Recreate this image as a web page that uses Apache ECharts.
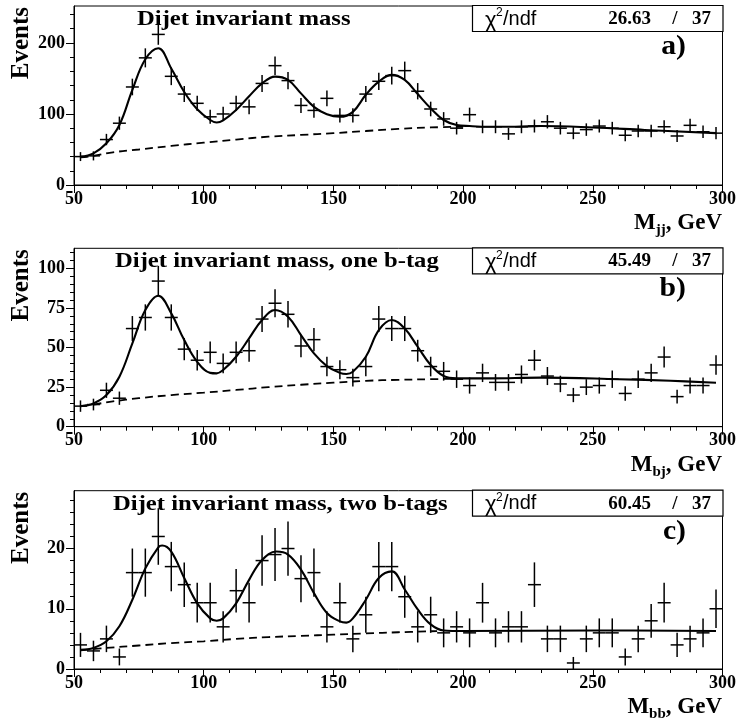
<!DOCTYPE html>
<html><head><meta charset="utf-8">
<script src="https://cdn.jsdelivr.net/npm/echarts@6/dist/echarts.min.js"></script>
<style>html,body{margin:0;padding:0;background:#fff}#c{width:739px;height:725px}</style>
</head><body><div id="c"></div>
<script>
// bin centres (GeV)
const massBins = [52.5,57.5,62.5,67.5,72.5,77.5,82.5,87.5,92.5,97.5,102.5,107.5,112.5,117.5,122.5,127.5,132.5,137.5,142.5,147.5,152.5,157.5,162.5,167.5,172.5,177.5,182.5,187.5,192.5,197.5,202.5,207.5,212.5,217.5,222.5,227.5,232.5,237.5,242.5,247.5,252.5,257.5,262.5,267.5,272.5,277.5,282.5,287.5,292.5,297.5];

// a) all dijets
const eventsA = [40,41,64,87,138,179,212,153,128,115,96,100,115,110,143,168,147,112,105,122,98,98,128,146,154,161,132,107,93,80,99,82,82,72,82,83,89,80,73,78,83,80,70,76,76,82,69,84,75,73];
const errA = [6.3,6.4,8,9.3,11.7,13.4,14.6,12.4,11.3,10.7,9.8,10,10.7,10.5,12,13,12.1,10.6,10.2,11,9.9,9.9,11.3,12.1,12.4,12.7,11.5,10.3,9.6,8.9,9.9,9.1,9.1,8.5,9.1,9.1,9.4,8.9,8.5,8.8,9.1,8.9,8.4,8.7,8.7,9.1,8.3,9.2,8.7,8.5];
const fitAx = [52.5,57.5,62.5,67.5,72.5,77.5,82.5,87.5,92.5,97.5,102.5,105,107.5,112.5,117.5,122.5,127.5,132.5,137.5,142.5,147.5,152.5,157.5,162.5,167.5,172.5,177.5,182.5,187.5,192.5,197.5,202.5,210,220,230,250,270,297.5];
const fitAy = [40,44.6,58.7,84.5,134,177,192.5,164,131,106.6,91.5,88,91,105.6,125,143,152.6,148,129,110,99.5,96,103,127,145.5,155,148,128,108,91.5,84.5,83,82,82,83,81,77.5,73];
const bgAx = [52.5,57.5,65,75,87.5,100,112.5,125,137.5,150,162.5,175,187.5,200];
const bgAy = [39,41,46,50,55,59.6,64,68,70.5,73,76,79,81,82];

// b) one b-tag
const eventsB = [13,14,23,18,62,69,92,69,49,42,47,40,47,48,68,78,71,51,55,38,36,31,38,68,62,62,48,38,35,30,26,34,28,28,33,42,32,27,20,25,26,30,21,30,34,44,19,26,26,39];
const errB = [3.6,3.7,4.8,4.2,7.9,8.3,9.6,8.3,7,6.5,6.9,6.3,6.9,6.9,8.2,8.8,8.4,7.1,7.4,6.2,6,5.6,6.2,8.2,7.9,7.9,6.9,6.2,5.9,5.5,5.1,5.8,5.3,5.3,5.7,6.5,5.7,5.2,4.5,5,5.1,5.5,4.6,5.5,5.8,6.6,4.4,5.1,5.1,6.2];
const fitBx = [52.5,57.5,62.5,67.5,72.5,77.5,82.5,87.5,92.5,97.5,102.5,105,107.5,112.5,117.5,122.5,127.5,132.5,137.5,142.5,147.5,152.5,155,157.5,162.5,167.5,172.5,177.5,182.5,187.5,192.5,197.5,210,230,260,280,297.5];
const fitBy = [13,14.7,20,31.6,52.6,73.7,82.7,71.6,54.7,41,34,33.7,35.8,44.2,55.8,67.4,73.7,69.5,57.9,46.3,38.3,34,33.3,34.7,44.2,61,67.4,62,50.5,39,32,30.5,30.5,31,30,29,27.8];
const bgBx = [52.5,57.5,65,75,87.5,100,112.5,125,137.5,150,162.5,175,187.5,195];
const bgBy = [13,14,16,18,20,21.5,23.2,25,26.5,27.8,29,29.6,30,30.3];

// c) two b-tags
const eventsC = [4,3,5,2,16,16,22,17,14,11,11,7,13,11,18,19,20,15,16,7,11,5,9,17,17,12,7,9,6,7,6,11,6,7,7,14,5,5,1,5,6,6,2,5,8,11,4,5,6,10];
const errC = [2,1.7,2.2,1.4,4,4,4.7,4.1,3.7,3.3,3.3,2.6,3.6,3.3,4.2,4.4,4.5,3.9,4,2.6,3.3,2.2,3,4.1,4.1,3.5,2.6,3,2.4,2.6,2.4,3.3,2.4,2.6,2.6,3.7,2.2,2.2,1,2.2,2.4,2.4,1.4,2.2,2.8,3.3,2,2.2,2.4,3.2];
const fitCx = [52.5,57.5,62.5,67.5,72.5,77.5,82.5,84,87.5,92.5,97.5,102.5,105,107.5,112.5,117.5,122.5,128,132.5,137.5,142.5,147.5,152.5,155,157.5,162.5,167.5,172.5,177.5,182.5,187.5,192.5,200,250,297.5];
const fitCy = [3.2,3.5,4.6,7.1,11.5,16.7,20.2,20.5,19.5,15.1,10.9,8.4,8,8.4,10.9,14.8,18.1,19.5,19,16.5,12.6,9.3,7.9,7.7,8.4,11.5,15.1,16.2,13.2,9.9,7.4,6.4,6.3,6.4,6.3];
const bgCx = [52.5,62.5,75,87.5,100,112.5,125,137.5,150,162.5,175,190];
const bgCy = [3.1,3.5,3.9,4.3,4.6,5,5.3,5.5,5.7,5.9,6.1,6.3];

// axis ticks
const xMajorTicks = [50,100,150,200,250,300];
const xMinorTicks = [50,60,70,80,90,100,110,120,130,140,150,160,170,180,190,200,210,220,230,240,250,260,270,280,290,300];
const yMajorA = [0,100,200];
const yMinorA = [0,20,40,60,80,100,120,140,160,180,200,220,240];
const yMajorB = [0,25,50,75,100];
const yMinorB = [0,5,10,15,20,25,30,35,40,45,50,55,60,65,70,75,80,85,90,95,100,105,110];
const yMajorC = [0,10,20];
const yMinorC = [0,2,4,6,8,10,12,14,16,18,20,22,24,26,28];

const titles = ['Dijet invariant mass','Dijet invariant mass, one b-tag','Dijet invariant mass, two b-tags'];
const chi2 = ['26.63','45.49','60.45'];
const ndf = ['37','37','37'];
const tags = ['a)','b)','c)'];
const xSubs = ['jj','bj','bb'];

const SERIF = "'Liberation Serif','Times New Roman',serif";
const SANS = "'Liberation Sans',Arial,sans-serif";

const panels = [
  {top:6, h:179, ymax:252, yMaj:yMajorA, yMin:yMinorA, ev:eventsA, er:errA, fx:fitAx, fy:fitAy, bx:bgAx, by:bgAy, titleX:137},
  {top:248.3, h:178.4, ymax:112.7, yMaj:yMajorB, yMin:yMinorB, ev:eventsB, er:errB, fx:fitBx, fy:fitBy, bx:bgBx, by:bgBy, titleX:115},
  {top:490.7, h:178.3, ymax:29.6, yMaj:yMajorC, yMin:yMinorC, ev:eventsC, er:errC, fx:fitCx, fy:fitCy, bx:bgCx, by:bgCy, titleX:113}
];
const LEFT = 74, RIGHT = 723;

const grid = [], xAxis = [], yAxis = [], series = [], graphic = [];
const black = '#000';
panels.forEach((p, i) => {
  grid.push({left: LEFT, top: p.top, width: RIGHT-LEFT, height: p.h, show: true, borderColor: black, borderWidth: 1, containLabel: false});
  const labelStyle = {fontFamily: SERIF, fontWeight: 'bold', fontSize: 18, color: black};
  xAxis.push({type:'value', gridIndex:i, min:50, max:300, position:'bottom',
    axisLine:{show:true, onZero:false, lineStyle:{color:black, width:1}},
    axisTick:{show:true, inside:false, length:8, customValues:xMajorTicks, lineStyle:{color:black, width:1}},
    axisLabel:Object.assign({show:true, margin:5, customValues:xMajorTicks}, labelStyle),
    splitLine:{show:false}});
  xAxis.push({type:'value', gridIndex:i, min:50, max:300, position:'bottom',
    axisLine:{show:false, onZero:false},
    axisTick:{show:true, inside:false, length:4, customValues:xMinorTicks, lineStyle:{color:black, width:1}},
    axisLabel:{show:false}, splitLine:{show:false}});
  yAxis.push({type:'value', gridIndex:i, min:0, max:p.ymax, position:'left',
    axisLine:{show:true, onZero:false, lineStyle:{color:black, width:1}},
    axisTick:{show:true, inside:false, length:8, customValues:p.yMaj, lineStyle:{color:black, width:1}},
    axisLabel:Object.assign({show:true, margin:9, customValues:p.yMaj}, labelStyle),
    splitLine:{show:false}});
  yAxis.push({type:'value', gridIndex:i, min:0, max:p.ymax, position:'left',
    axisLine:{show:false, onZero:false},
    axisTick:{show:true, inside:false, length:4, customValues:p.yMin, lineStyle:{color:black, width:1}},
    axisLabel:{show:false}, splitLine:{show:false}});

  series.push({type:'line', xAxisIndex:2*i, yAxisIndex:2*i, data:p.bx.map((x,k)=>[x,p.by[k]]),
    showSymbol:false, smooth:0.4, lineStyle:{color:black, width:1.8, type:[8,5]}, silent:true, z:2});
  series.push({type:'line', xAxisIndex:2*i, yAxisIndex:2*i, data:p.fx.map((x,k)=>[x,p.fy[k]]),
    showSymbol:false, smooth:0.4, lineStyle:{color:black, width:2.1}, silent:true, z:3});
  series.push({type:'custom', xAxisIndex:2*i, yAxisIndex:2*i, z:4,
    data: massBins.map((x,k)=>[x, p.ev[k], p.er[k]]),
    renderItem: function(params, api){
      const x = api.value(0), y = api.value(1), e = api.value(2);
      const l = api.coord([x-2.5, y]), r = api.coord([x+2.5, y]);
      const t = api.coord([x, y+e]), b = api.coord([x, y-e]);
      const st = {stroke: black, lineWidth: 1.5};
      return {type:'group', children:[
        {type:'line', shape:{x1:l[0], y1:l[1], x2:r[0], y2:r[1]}, style:st},
        {type:'line', shape:{x1:t[0], y1:t[1], x2:b[0], y2:b[1]}, style:st}
      ]};
    }});

  // overlay texts
  const top = p.top, bottom = p.top + p.h;
  graphic.push({type:'text', x:p.titleX, y:top+13.5, scaleX:1.12, style:{text:titles[i], font:"bold 22px " + SERIF, fill:black, align:'left', verticalAlign:'middle'}, z:10});
  graphic.push({type:'rect', shape:{x:472.5, y:top-0.5, width:RIGHT-472.5, height:26}, style:{fill:'#fff', stroke:black, lineWidth:1.2}, z:9});
  graphic.push({type:'text', x:485, y:top+14.5, style:{text:'\u03c7', font:"22px " + SANS, fill:black, align:'left', verticalAlign:'middle'}, z:10});
  graphic.push({type:'text', x:496, y:top+7, style:{text:'2', font:"12px " + SANS, fill:black, align:'left', verticalAlign:'middle'}, z:10});
  graphic.push({type:'text', x:503, y:top+13, style:{text:'/ndf', font:"20px " + SANS, fill:black, align:'left', verticalAlign:'middle'}, z:10});
  graphic.push({type:'text', x:651, y:top+13, style:{text:chi2[i], font:"bold 19px " + SERIF, fill:black, align:'right', verticalAlign:'middle'}, z:10});
  graphic.push({type:'text', x:675, y:top+13, style:{text:'/', font:"bold 19px " + SERIF, fill:black, align:'center', verticalAlign:'middle'}, z:10});
  graphic.push({type:'text', x:711, y:top+13, style:{text:ndf[i], font:"bold 19px " + SERIF, fill:black, align:'right', verticalAlign:'middle'}, z:10});
  graphic.push({type:'text', x:686, y:top+41, scaleX:1.1, style:{text:tags[i], font:"bold 27px " + SERIF, fill:black, align:'right', verticalAlign:'middle'}, z:10});
  graphic.push({type:'text', x:22, y:top+1, rotation:Math.PI/2, style:{text:'Events', font:"bold 25px " + SERIF, fill:black, align:'right', verticalAlign:'middle'}, z:10});
  graphic.push({type:'text', x:722, y:bottom+38, style:{
    text:'{m|M}{s|' + xSubs[i] + '}{m|, GeV}', align:'right', verticalAlign:'middle',
    rich:{m:{fontFamily:SERIF, fontWeight:'bold', fontSize:23, lineHeight:30, verticalAlign:'middle', fill:black},
          s:{fontFamily:SERIF, fontWeight:'bold', fontSize:15, lineHeight:15, verticalAlign:'bottom', fill:black}}}, z:10});
});

const chart = echarts.init(document.getElementById('c'), null, {renderer:'canvas'});
chart.setOption({animation:false, backgroundColor:'#fff', grid, xAxis, yAxis, series, graphic});
</script></body></html>
